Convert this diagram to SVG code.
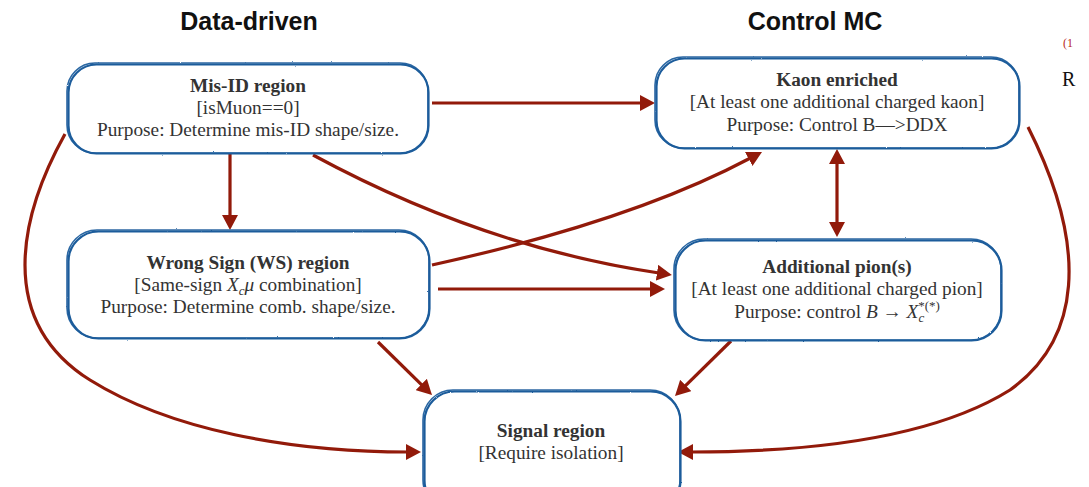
<svg xmlns="http://www.w3.org/2000/svg" width="1089" height="487" viewBox="0 0 1089 487">
<style>
.box{fill:#fff;stroke:#2b67a3;stroke-width:1.6}
.box2{fill:none;stroke:#1b5c9b;stroke-width:2.2}
.t{font-family:"Liberation Serif","Times New Roman",serif;font-size:19.3px;fill:#333;text-anchor:middle}
.b{font-weight:bold}
.h{font-family:"Liberation Sans",Arial,sans-serif;font-size:25px;font-weight:bold;fill:#111;text-anchor:middle}
.c{fill:none;stroke:#921a0a;stroke-width:3.2}
.i{font-style:italic}
.s{font-size:13px}
</style>
<defs>
<marker id="ah" viewBox="0 0 15 16" refX="2" refY="8" markerWidth="15" markerHeight="16" markerUnits="userSpaceOnUse" orient="auto-start-reverse">
<path d="M0,0 L15,8 L0,16 z" fill="#921a0a"/>
</marker>
<filter id="rough" x="-5%" y="-5%" width="110%" height="110%">
<feTurbulence type="fractalNoise" baseFrequency="0.8" numOctaves="2" seed="3"/>
<feDisplacementMap in="SourceGraphic" scale="1.6"/>
</filter>
</defs>
<rect width="1089" height="487" fill="#fff"/>
<text class="h" x="249" y="30">Data-driven</text>
<text class="h" x="815" y="30">Control MC</text>
<text x="1063" y="47" font-family="Liberation Serif,serif" font-size="12" fill="#b8281c">(1</text>
<text x="1062" y="86" font-family="Liberation Serif,serif" font-size="20" fill="#111">R</text>

<g id="connectors">
<path class="c" d="M432,103 L642,103" marker-end="url(#ah)"/>
<path class="c" d="M230,154 L230,217" marker-end="url(#ah)"/>
<path class="c" d="M438,289 L652,289" marker-end="url(#ah)"/>
<path class="c" d="M837,162 L837,224" marker-start="url(#ah)" marker-end="url(#ah)"/>
<path class="c" d="M378,342 L422.7,385.9" marker-end="url(#ah)"/>
<path class="c" d="M731,341 L684.3,386.9" marker-end="url(#ah)"/>
<path class="c" d="M313,155 Q483,247 659,273" marker-end="url(#ah)"/>
<path class="c" d="M432,265 Q632,221 750.5,158" marker-end="url(#ah)"/>
<path class="c" d="M65,134 C20,215 -5,320 90,380 C170,430 290,452 408,452" marker-end="url(#ah)"/>
<path class="c" d="M1028,127 C1090,250 1080,340 1010,390 C930,440 800,452 691,452" marker-end="url(#ah)"/>
</g>

<g id="misid">
<g filter="url(#rough)">
<rect class="box" x="67" y="63" width="361" height="90" rx="28"/>
<rect class="box2" x="68.5" y="64.5" width="360" height="89" rx="28"/>
</g>
<text class="t b" x="248" y="92">Mis-ID region</text>
<text class="t" x="248" y="114">[isMuon==0]</text>
<text class="t" x="248" y="136">Purpose: Determine mis-ID shape/size.</text>
</g>

<g id="kaon">
<g filter="url(#rough)">
<rect class="box" x="655" y="57" width="364" height="91" rx="28"/>
<rect class="box2" x="656.5" y="58.5" width="363" height="90" rx="28"/>
</g>
<text class="t b" x="837" y="86">Kaon enriched</text>
<text class="t" x="837" y="108">[At least one additional charged kaon]</text>
<text class="t" x="837" y="131">Purpose: Control B—&gt;DDX</text>
</g>

<g id="ws">
<g filter="url(#rough)">
<rect class="box" x="67" y="230" width="362" height="108" rx="30"/>
<rect class="box2" x="68.5" y="231.5" width="361" height="107" rx="30"/>
</g>
<text class="t b" x="248" y="269">Wrong Sign (WS) region</text>
<text class="t" x="248" y="291">[Same-sign <tspan class="i">X</tspan><tspan class="i s" dy="4">c</tspan><tspan class="i" dy="-4">μ</tspan> combination]</text>
<text class="t" x="248" y="313">Purpose: Determine comb. shape/size.</text>
</g>

<g id="pion">
<g filter="url(#rough)">
<rect class="box" x="674" y="239" width="327" height="101" rx="30"/>
<rect class="box2" x="675.5" y="240.5" width="326" height="100" rx="30"/>
</g>
<text class="t b" x="837" y="273">Additional pion(s)</text>
<text class="t" x="837" y="295">[At least one additional charged pion]</text>
<text class="t" x="837" y="318">Purpose: control <tspan class="i">B</tspan> → <tspan class="i">X</tspan><tspan class="i s" dy="4">c</tspan><tspan class="s" dx="-6" dy="-12">*(*)</tspan></text>
</g>

<g id="signal">
<g filter="url(#rough)">
<rect class="box" x="423" y="390" width="257" height="120" rx="30"/>
<rect class="box2" x="424.5" y="391.5" width="256" height="119" rx="30"/>
</g>
<text class="t b" x="551" y="437">Signal region</text>
<text class="t" x="551" y="459">[Require isolation]</text>
</g>
</svg>
